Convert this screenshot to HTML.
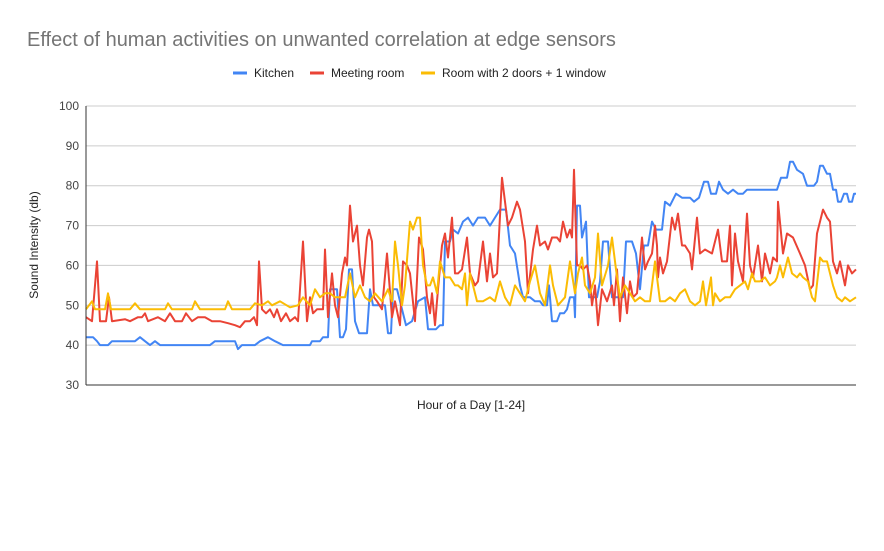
<!DOCTYPE html>
<html><head><meta charset="utf-8"><style>
body{margin:0;background:#fff;font-family:"Liberation Sans",Arial,sans-serif}
</style></head><body>
<svg id="c" width="884" height="546" xmlns="http://www.w3.org/2000/svg" font-family="Liberation Sans, Arial, sans-serif">
<rect width="884" height="546" fill="#fff"/>
<text x="27" y="46" font-size="20" fill="#757575">Effect of human activities on unwanted correlation at edge sensors</text>
<g>
<g><line x1="233" y1="73" x2="247" y2="73" stroke="#4285f4" stroke-width="3"/><text x="254" y="77" font-size="12" fill="#222">Kitchen</text></g>
<g><line x1="310" y1="73" x2="324" y2="73" stroke="#ea4335" stroke-width="3"/><text x="331" y="77" font-size="12" fill="#222">Meeting room</text></g>
<g><line x1="421" y1="73" x2="435" y2="73" stroke="#fbbc04" stroke-width="3"/><text x="442" y="77" font-size="12" fill="#222">Room with 2 doors + 1 window</text></g>
</g>
<text transform="translate(38,245) rotate(-90)" text-anchor="middle" font-size="12" fill="#222">Sound Intensity (db)</text>
<text x="471" y="409" text-anchor="middle" font-size="12" fill="#222">Hour of a Day [1-24]</text>
<g id="grid"></g><g id="series"></g>
<line x1="86" y1="106" x2="86" y2="385" stroke="#333" stroke-width="1"/>
<line x1="86" y1="385" x2="856" y2="385" stroke="#333" stroke-width="1"/>
</svg>
<script>
const yTicks=[30,40,50,60,70,80,90,100];
const kitchenT=[86,93,97,100,108,112,135,140,145,150,155,160,210,215,235,238,242,255,260,268,275,283,310,312,320,323,328,330,337,340,343,346,349,352,355,359,367,370,373,385,388,391,393,397,401,406,412,418,425,428,436,440,443,445,450,453,458,463,468,473,478,485,490,495,500,506,510,515,520,523,530,535,540,543,547,549,552,557,560,564,567,570,574,575,577,580,582,586,589,597,600,603,608,612,623,626,632,636,640,644,648,652,656,662,665,670,676,682,690,694,699,704,708,711,716,719,723,728,733,738,743,747,777,781,787,790,793,797,803,807,814,817,820,823,827,830,833,836,838,841,844,847,849,852,854,856];
const kitchenV=[42,42,41,40,40,41,41,42,41,40,41,40,40,41,41,39,40,40,41,42,41,40,40,41,41,42,42,54,54,42,42,44,59,59,46,43,43,54,50,50,43,43,54,54,50,45,46,51,52,44,44,45,45,66,66,69,68,71,72,70,72,72,70,72,74,74,65,63,55,52,52,51,51,50,50,55,46,46,48,48,49,52,52,47,75,75,67,71,52,52,56,66,66,52,52,66,66,63,54,65,65,71,69,69,76,75,78,77,77,76,77,81,81,78,78,81,79,78,79,78,78,79,79,82,82,86,86,84,83,80,80,81,85,85,83,83,79,79,76,76,78,78,76,76,78,78];
const meetingT=[86,92,97,100,106,109,112,125,130,138,142,145,148,158,165,170,175,182,186,192,198,205,212,220,228,235,240,245,250,254,257,259,262,266,270,274,277,281,286,290,295,298,303,307,310,313,317,323,325,328,332,335,338,342,345,347,350,353,357,360,363,367,369,372,374,377,382,387,392,395,400,403,407,410,415,419,423,427,430,432,435,438,442,445,448,452,455,458,462,467,470,475,478,483,487,490,493,497,502,508,512,517,520,525,528,533,537,540,545,548,552,557,560,563,567,570,572,574,577,580,583,587,590,592,595,598,602,607,612,614,617,620,623,627,630,633,637,642,645,648,652,655,657,658,660,663,667,672,675,678,682,685,690,692,697,700,705,712,718,722,727,730,732,735,738,743,747,750,753,758,762,765,770,773,777,778,783,787,793,800,805,810,813,817,820,823,827,830,833,837,840,845,848,852,856];
const meetingV=[47,46,61,46,46,52,46,46.5,46,47,47,48,46,47,46,48,46,46,48,46,47,47,46,46,45.5,45,44.5,46,46,47,45,61,49,48,49,47,49,46,48,46,47,46,66,46,52,48,49,49,64,47,58,50,47,58,62,60,75,66,70,60,55,67,69,66,52,51,49,63,47,51,45,61,60,58,46,67,64,52,48,53,45,54,65,68,62,72,58,58,59,67,58,55,56,66,56,63,57,58,82,70,72,76,74,66,53,64,70,65,66,64,67,67,66,71,67,69,67,84,60,60,59,60,56,50,55,45,54,51,55,50,59,46,57,48,56,52,53,67,59,61,63,70,65,57,62,58,61,72,69,73,65,65,63,59,72,63,64,63,69,61,61,70,55,68,61,56,73,60,57,65,56,63,58,62,61,76,63,68,67,63,60,54,55,68,71,74,72,71,61,58,61,55,60,58,59];
const roomT=[86,92,95,105,108,111,130,135,140,165,168,172,192,195,200,225,228,232,250,255,262,268,272,280,290,298,303,310,315,320,325,330,335,340,345,350,355,360,365,370,375,382,388,392,395,398,402,405,410,413,417,420,423,427,430,433,437,440,445,450,455,458,462,465,467,470,477,483,490,495,500,505,510,515,520,525,530,535,540,545,550,553,558,565,570,575,578,582,585,590,595,598,602,608,612,616,620,625,630,635,640,645,650,655,660,665,670,675,680,685,690,695,700,703,706,711,713,715,720,725,730,735,740,745,748,752,755,760,765,770,775,777,780,783,788,792,797,800,803,808,812,815,820,823,827,830,833,837,842,845,850,856];
const roomV=[49,51,49,49,53,49,49,50.5,49,49,50.5,49,49,51,49,49,51,49,49,50.5,50,51,50,51,49.5,50,52,50,54,52,53,53,52,52,52,58,52,55,52,51,53,51,54,51,66,60,50,55,71,69,72,72,60,55,55,57,53,61,57,57,55,55,54,58,50,58,51,51,52,51,56,52,50,55,53,51,56,60,53,50,60,55,50,52,61,53,58,62,55,53,57,68,55,60,67,59,52,55,53,51,52,51,51,61,51,51,52,51,53,54,51,50,51,56,50,57,50,53,51,52,52,54,55,56,54,58,56,56,57,55,56,57,60,57,62,58,57,58,57,56,52,51,62,61,61,58,55,52,51,52,51,52];
const x0=86,x1=856,yTop=106,yBot=385,yMin=30,yMax=100,dMin=86,dMax=856;
function xs(t){return x0+(t-dMin)/(dMax-dMin)*(x1-x0);}
function ys(v){return yBot-(v-yMin)/(yMax-yMin)*(yBot-yTop);}
const NS="http://www.w3.org/2000/svg";
const grid=document.getElementById('grid');
yTicks.forEach(v=>{
 const l=document.createElementNS(NS,'line');
 l.setAttribute('x1',x0);l.setAttribute('x2',x1);l.setAttribute('y1',ys(v));l.setAttribute('y2',ys(v));
 l.setAttribute('stroke','#ccc');l.setAttribute('stroke-width','1');
 
 
 grid.appendChild(l);
 const t=document.createElementNS(NS,'text');
 t.setAttribute('x',79);t.setAttribute('y',ys(v)+4);t.setAttribute('text-anchor','end');
 t.setAttribute('font-size','12');t.setAttribute('fill','#444');t.textContent=v;
 
 
 grid.appendChild(t);
});
const ser=document.getElementById('series');
function draw(T,V,color,name){
 const p=document.createElementNS(NS,'polyline');
 p.setAttribute('points',T.map((t,i)=>xs(t).toFixed(1)+','+ys(V[i]).toFixed(1)).join(' '));
 p.setAttribute('fill','none');p.setAttribute('stroke',color);p.setAttribute('stroke-width','2');
 p.setAttribute('stroke-linejoin','round');
 
 
 ser.appendChild(p);
}
draw(kitchenT,kitchenV,'#4285f4','kitchen-line');
draw(meetingT,meetingV,'#ea4335','meeting-room-line');
draw(roomT,roomV,'#fbbc04','room-2-doors-line');
</script>
</body></html>
